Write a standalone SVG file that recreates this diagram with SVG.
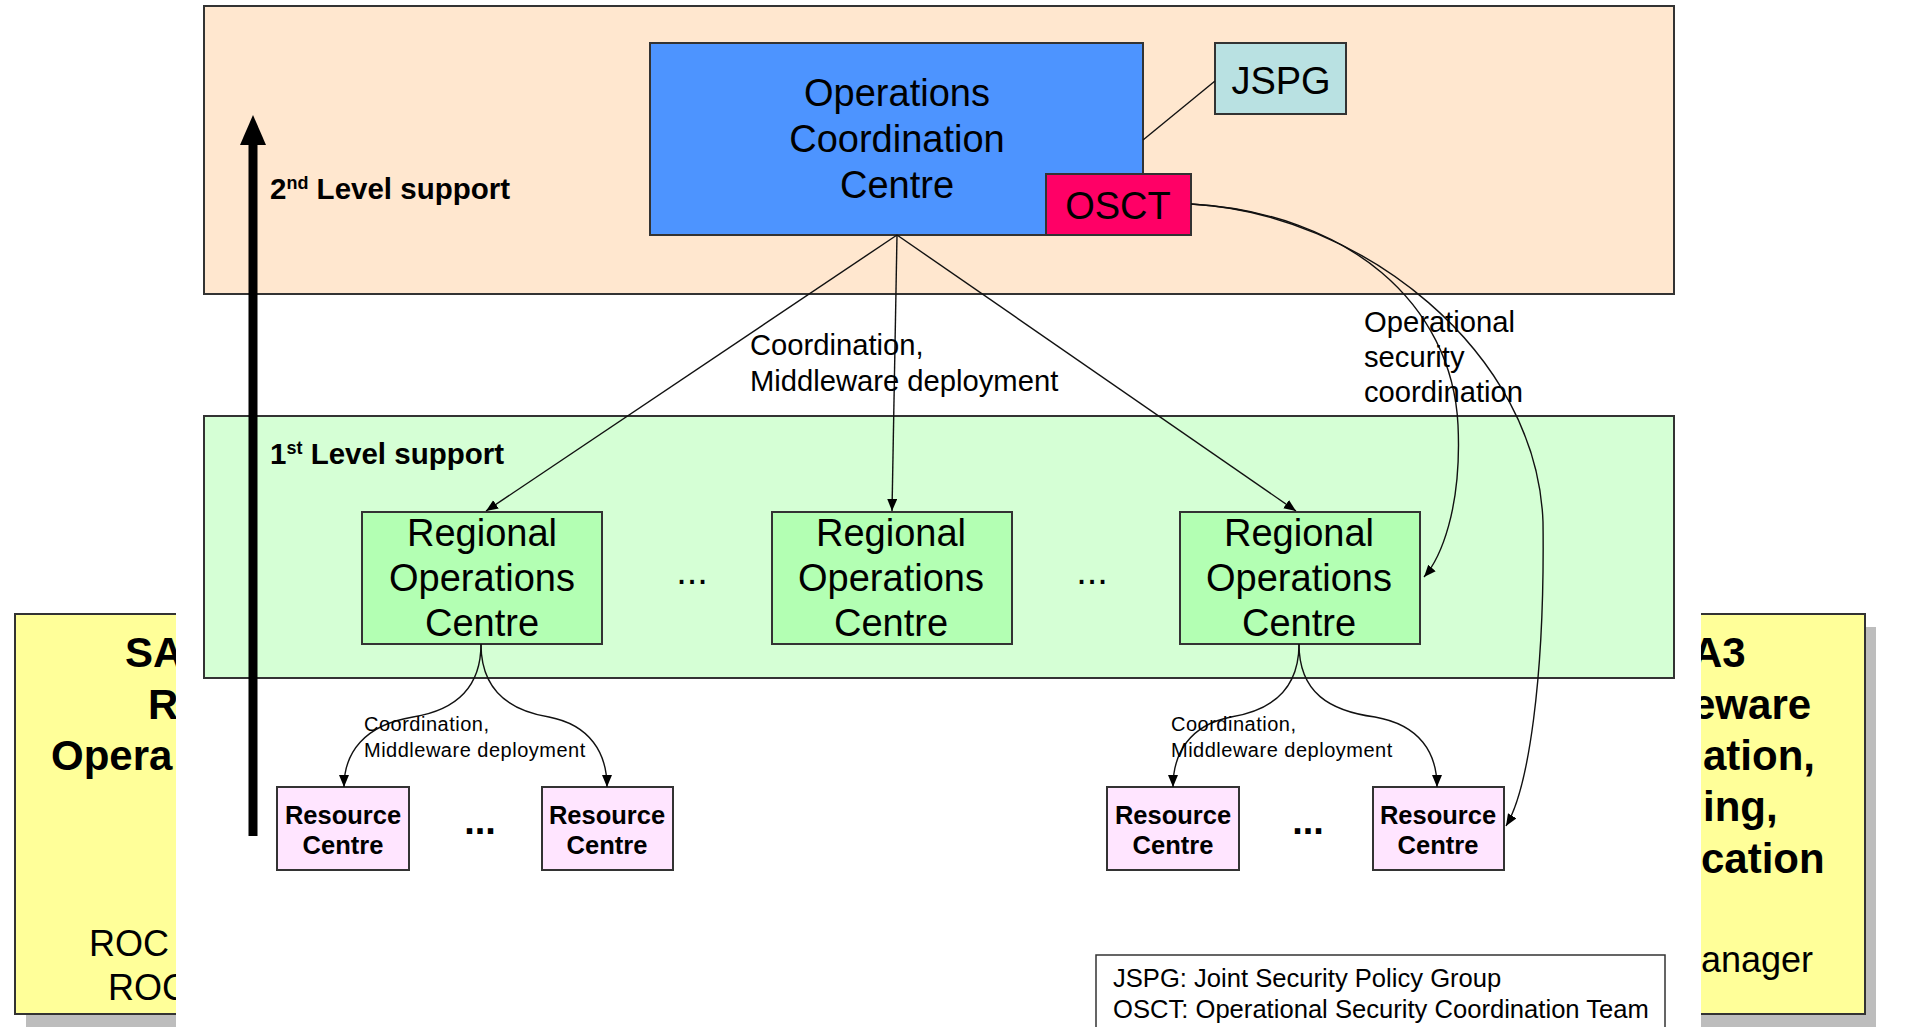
<svg xmlns="http://www.w3.org/2000/svg" width="1905" height="1027" viewBox="0 0 1905 1027">
<defs>
<marker id="ah" markerUnits="userSpaceOnUse" markerWidth="14" markerHeight="12" refX="12" refY="5" orient="auto">
<path d="M0,0 L12,5 L0,10 z" fill="#000"/>
</marker>
</defs>
<style>
text{font-family:"Liberation Sans",Arial,sans-serif;fill:#000}
.box{stroke:#333;stroke-width:2}
.big{font-size:38px;text-anchor:middle}
.rc{font-size:25.5px;font-weight:bold;text-anchor:middle}
.lbl{font-size:29.2px}
.sm{font-size:20px;letter-spacing:0.5px}
.side{font-size:42px;font-weight:bold}
.sider{font-size:36px}
.con{fill:none;stroke:#111;stroke-width:1.4}
.lvl{font-size:29.5px;font-weight:bold}
</style>
<rect x="0" y="0" width="1905" height="1027" fill="#fff"/>

<g id="side-left">
<rect x="26" y="627" width="180" height="400" fill="#bdbdbd"/>
<rect x="15" y="614" width="200" height="400" fill="#ffff99" class="box"/>
<text class="side" x="125" y="667">SA</text>
<text class="side" x="148" y="719">R</text>
<text class="side" x="51" y="770">Opera</text>
<text class="sider" x="89" y="956">ROC</text>
<text class="sider" x="108" y="1000">ROC</text>
</g>
<g id="side-right">
<rect x="1700" y="627" width="176" height="400" fill="#bdbdbd"/>
<rect x="1680" y="614" width="185" height="400" fill="#ffff99" class="box"/>
<text class="side" x="1692" y="667">A3</text>
<text class="side" x="1692" y="719">eware</text>
<text class="side" x="1703" y="770">ation,</text>
<text class="side" x="1703" y="821">ing,</text>
<text class="side" x="1701" y="873">cation</text>
<text class="sider" x="1701" y="972">anager</text>
</g>
<rect x="176" y="0" width="1525" height="1027" fill="#fff"/>

<g id="band-2nd">
<rect x="204" y="6" width="1470" height="288" fill="#ffe7cf" class="box"/>
<text class="lvl" x="270" y="199">2<tspan font-size="18" dy="-10">nd</tspan><tspan dy="10"> Level support</tspan></text>
</g>
<g id="band-1st">
<rect x="204" y="416" width="1470" height="262" fill="#d5ffd5" class="box"/>
<text class="lvl" x="270" y="464">1<tspan font-size="18" dy="-10">st</tspan><tspan dy="10"> Level support</tspan></text>
</g>

<g id="level-arrow">
<line x1="253" y1="836" x2="253" y2="138" stroke="#000" stroke-width="9"/>
<polygon points="253,115 240,145 266,145" fill="#000"/>
</g>

<g id="occ">
<rect x="650" y="43" width="493" height="192" fill="#4d94ff" class="box"/>
<text class="big" x="897" y="106">Operations</text>
<text class="big" x="897" y="152">Coordination</text>
<text class="big" x="897" y="198">Centre</text>
</g>
<g id="osct">
<rect x="1046" y="174" width="145" height="61" fill="#ff0066" class="box"/>
<text class="big" x="1118" y="219">OSCT</text>
</g>
<g id="jspg">
<rect x="1215" y="43" width="131" height="71" fill="#b9e1e2" class="box"/>
<text class="big" x="1281" y="94">JSPG</text>
</g>

<g id="roc1">
<rect x="362" y="512" width="240" height="132" fill="#b3ffb3" class="box"/>
<text class="big" x="482" y="546">Regional</text>
<text class="big" x="482" y="591">Operations</text>
<text class="big" x="482" y="636">Centre</text>
</g>
<g id="roc2">
<rect x="772" y="512" width="240" height="132" fill="#b3ffb3" class="box"/>
<text class="big" x="891" y="546">Regional</text>
<text class="big" x="891" y="591">Operations</text>
<text class="big" x="891" y="636">Centre</text>
</g>
<g id="roc3">
<rect x="1180" y="512" width="240" height="132" fill="#b3ffb3" class="box"/>
<text class="big" x="1299" y="546">Regional</text>
<text class="big" x="1299" y="591">Operations</text>
<text class="big" x="1299" y="636">Centre</text>
</g>
<text class="big" x="692" y="584">...</text>
<text class="big" x="1092" y="584">...</text>

<g id="rc1">
<rect x="277" y="787" width="132" height="83" fill="#ffe5ff" class="box"/>
<text class="rc" x="343" y="824">Resource</text>
<text class="rc" x="343" y="854">Centre</text>
</g>
<g id="rc2">
<rect x="542" y="787" width="131" height="83" fill="#ffe5ff" class="box"/>
<text class="rc" x="607" y="824">Resource</text>
<text class="rc" x="607" y="854">Centre</text>
</g>
<g id="rc3">
<rect x="1107" y="787" width="132" height="83" fill="#ffe5ff" class="box"/>
<text class="rc" x="1173" y="824">Resource</text>
<text class="rc" x="1173" y="854">Centre</text>
</g>
<g id="rc4">
<rect x="1373" y="787" width="131" height="83" fill="#ffe5ff" class="box"/>
<text class="rc" x="1438" y="824">Resource</text>
<text class="rc" x="1438" y="854">Centre</text>
</g>
<text class="big" x="480" y="834" font-weight="bold">...</text>
<text class="big" x="1308" y="834" font-weight="bold">...</text>

<g id="connectors">
<line class="con" x1="1143" y1="140" x2="1215" y2="81"/>
<line class="con" x1="897" y1="235" x2="486" y2="511" marker-end="url(#ah)"/>
<line class="con" x1="897" y1="235" x2="892" y2="511" marker-end="url(#ah)"/>
<line class="con" x1="897" y1="235" x2="1296" y2="511" marker-end="url(#ah)"/>
<path class="con" d="M1191,204 C1349,213 1452,304 1458,425 C1462,510 1440,559 1424,577" marker-end="url(#ah)"/>
<path class="con" d="M1191,204 C1361,213 1537,352 1543,522 C1545,680 1528,790 1506,826" marker-end="url(#ah)"/>
<path class="con" d="M481,644 C481,693 450,711 413,717 C364,725 344,753 344,787" marker-end="url(#ah)"/>
<path class="con" d="M481,644 C481,693 512,711 549,717 C590,725 607,753 607,787" marker-end="url(#ah)"/>
<path class="con" d="M1299,644 C1299,693 1268,711 1231,717 C1190,725 1173,753 1173,787" marker-end="url(#ah)"/>
<path class="con" d="M1299,644 C1299,693 1330,711 1375,717 C1420,725 1437,753 1437,787" marker-end="url(#ah)"/>
</g>

<g id="labels">
<text class="lbl" x="750" y="355">Coordination,</text>
<text class="lbl" x="750" y="391">Middleware deployment</text>
<text class="lbl" x="1364" y="332">Operational</text>
<text class="lbl" x="1364" y="367">security</text>
<text class="lbl" x="1364" y="402">coordination</text>
<text class="sm" x="364" y="731">Coordination,</text>
<text class="sm" x="364" y="757">Middleware deployment</text>
<text class="sm" x="1171" y="731">Coordination,</text>
<text class="sm" x="1171" y="757">Middleware deployment</text>
</g>

<g id="legend">
<rect x="1096" y="955" width="569" height="90" fill="#fff" stroke="#333" stroke-width="1.5"/>
<text x="1113" y="987" font-size="25.6px">JSPG: Joint Security Policy Group</text>
<text x="1113" y="1018" font-size="25.6px">OSCT: Operational Security Coordination Team</text>
</g>
</svg>
